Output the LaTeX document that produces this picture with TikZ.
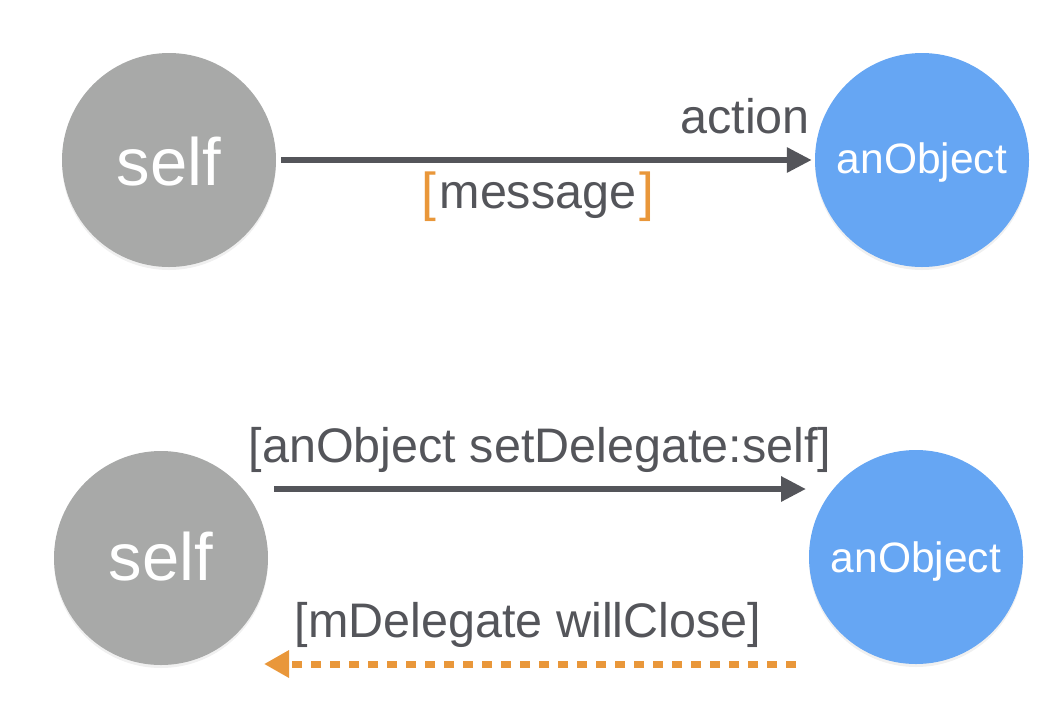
\documentclass[tikz,border=0pt]{standalone}
\usepackage{fontspec}
\setmainfont{Liberation Sans}
\usetikzlibrary{arrows.meta,shadows}
\definecolor{cgray}{HTML}{A8A9A8}
\definecolor{cblue}{HTML}{66A6F3}
\definecolor{cdark}{HTML}{54555A}
\definecolor{corange}{HTML}{E9973A}
\begin{document}
\begin{tikzpicture}[x=1pt,y=-1pt,
  ball/.style={circle,minimum size=214pt,inner sep=0pt,text=white,
    drop shadow={opacity=0.12,shadow xshift=0pt,shadow yshift=-3pt}},
  selfball/.style={ball,fill=cgray,font=\fontsize{67}{67}\selectfont},
  objball/.style={ball,fill=cblue,font=\fontsize{42.5}{42.5}\selectfont},
  lbl/.style={text=cdark,font=\fontsize{48.5}{48.5}\selectfont,inner sep=0pt},
  msgarrow/.style={draw=cdark,line width=6pt,-{Triangle[length=25pt,width=24pt]}},
  backarrow/.style={draw=corange,line width=7pt,dash pattern=on 10pt off 9pt,
    -{Triangle[length=25pt,width=26pt]}}
]
\useasboundingbox (0,0) rectangle (1056,724);
% top row
\node[selfball] (self1) at (169,160) {};
\node[text=white,font=\fontsize{67}{67}\selectfont,anchor=base,inner sep=0pt] (self1t) at (169,185) {self};
\node[objball] (obj1) at (922,160) {};
\node[text=white,font=\fontsize{42.5}{42.5}\selectfont,anchor=base,inner sep=0pt] (obj1t) at (922,173) {anObject};
\draw[msgarrow,shorten <=5pt,shorten >=3pt] (self1) -- (obj1);
\node[lbl,anchor=base east] (action) at (810,133) {action};
\node[lbl,anchor=base] (message) at (538,208) {\textcolor{corange}{\raisebox{-2pt}{\scalebox{1.1}[1.1]{[}}}\kern3pt message\kern3pt\textcolor{corange}{\raisebox{-2pt}{\scalebox{1.1}[1.1]{]}}}};
% bottom row
\node[selfball] (self2) at (161,558) {};
\node[text=white,font=\fontsize{67}{67}\selectfont,anchor=base,inner sep=0pt] (self2t) at (161,580) {self};
\node[objball] (obj2) at (916,557) {};
\node[text=white,font=\fontsize{42.5}{42.5}\selectfont,anchor=base,inner sep=0pt] (obj2t) at (916,572) {anObject};
\coordinate (a2s) at (274,489);
\coordinate (a2e) at (806,489);
\draw[msgarrow] (a2s) -- (a2e);
\node[lbl,anchor=base] (setdel) at (540,462) {[anObject setDelegate:self]};
\coordinate (b2s) at (796,664);
\coordinate (b2e) at (264,664);
\draw[backarrow] (b2s) -- (b2e);
\node[lbl,anchor=base] (willclose) at (528,637) {[mDelegate willClose]};
\end{tikzpicture}
\end{document}
